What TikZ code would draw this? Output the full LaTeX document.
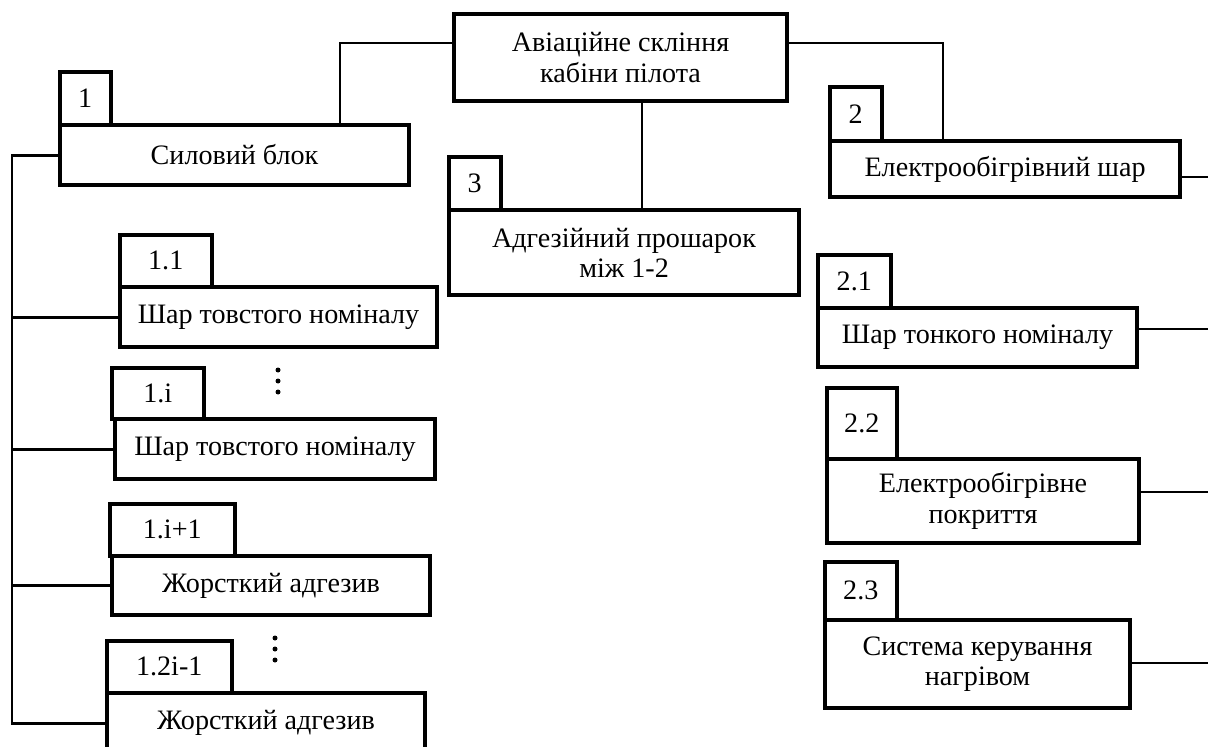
\documentclass[tikz,border=0pt]{standalone}
\usepackage{fontspec}
\setmainfont{Liberation Serif}
\begin{document}
\begin{tikzpicture}[x=0.025cm,y=-0.025cm,
  sz/.style 2 args={minimum width={#1*0.025cm}, minimum height={#2*0.025cm}},
  txt/.style={font=\fontsize{20}{21.5}\selectfont},
  box/.style={draw, line width=2.9pt, rectangle, anchor=north west, inner sep=0pt, align=center, txt},
  tab/.style={draw, line width=2.5pt, rectangle, anchor=north west, inner sep=0pt, txt},
  conn/.style={line width=2.1pt},
  dot/.style={circle, fill, inner sep=0pt, minimum size={5*0.025cm}}]
\useasboundingbox (0,0) rectangle (1208,747);
\fill[white] (0,0) rectangle (1208,747);

\node[box, sz={333}{87}] (top) at (452,12) {Авіаційне скління\\кабіни пілота};

\node[tab, sz={51}{53}] (t1) at (58,70) {1};
\node[box, sz={349}{60}] (b1) at (58,123) {Силовий блок};

\node[tab, sz={52}{53}] (t3) at (447,155) {3};
\node[box, sz={350}{85}] (b3) at (447,208) {Адгезійний прошарок\\між 1-2};

\node[tab, sz={52}{54}] (t2) at (828,85) {2};
\node[box, sz={350}{56}] (b2) at (828,139) {Електрообігрівний шар};

\node[tab, sz={92}{52}] (t11) at (118,233) {1.1};
\node[box, sz={317}{60}] (b11) at (118,285) {Шар товстого номіналу};

\node[tab, sz={92}{51}] (t1i) at (110,366) {1.i};
\node[box, sz={320}{60}] (b1i) at (113,417) {Шар товстого номіналу};

\node[tab, sz={125}{52}] (t1j) at (108,502) {1.i+1};
\node[box, sz={318}{59}] (b1j) at (110,554) {Жорсткий адгезив};

\node[tab, sz={125}{52}] (t1k) at (105,639) {1.2i-1};
\node[box, sz={318}{60}] (b1k) at (105,691) {Жорсткий адгезив};

\node[tab, sz={73}{53}] (t21) at (816,253) {2.1};
\node[box, sz={319}{59}] (b21) at (816,306) {Шар тонкого номіналу};

\node[tab, sz={70}{71}] (t22) at (825,386) {2.2};
\node[box, sz={312}{84}] (b22) at (825,457) {Електрообігрівне\\покриття};

\node[tab, sz={72}{58}] (t23) at (823,560) {2.3};
\node[box, sz={305}{88}] (b23) at (823,618) {Система керування\\нагрівом};

% dots
\node[dot] (da1) at (278,370) {};
\node[dot] (da2) at (278,381) {};
\node[dot] (da3) at (278,392) {};
\node[dot] (db1) at (275,638) {};
\node[dot] (db2) at (275,649) {};
\node[dot] (db3) at (275,660) {};

% connectors
\draw[conn] (top.west |- 0,43) -| (b1.north -| 340,0);
\draw[conn] (top.east |- 0,43) -| (b2.north -| 943,0);
\draw[conn] (top.south -| 642,0) -- (b3.north -| 642,0);

\draw[conn] (b1.west) -| (12,0 |- b1k.west) -- (b1k.west);
\draw[conn] (b11.west) -- (b11.west -| 12,0);
\draw[conn] (b1i.west) -- (b1i.west -| 12,0);
\draw[conn] (b1j.west) -- (b1j.west -| 12,0);

\coordinate (r2) at (1208,177);
\coordinate (r21) at (1208,329);
\coordinate (r22) at (1208,492);
\coordinate (r23) at (1208,663);
\draw[conn] (b2.east |- r2) -- (r2);
\draw[conn] (b21.east |- r21) -- (r21);
\draw[conn] (b22.east |- r22) -- (r22);
\draw[conn] (b23.east |- r23) -- (r23);
\end{tikzpicture}
\end{document}
